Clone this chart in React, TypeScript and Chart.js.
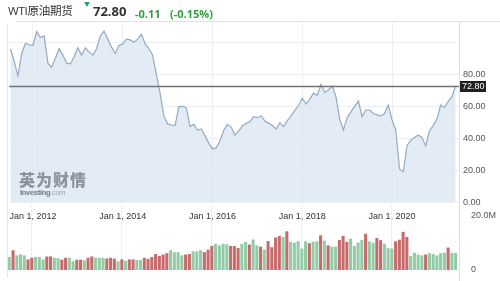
import React, { useEffect, useRef } from 'react';
import { Chart, registerables } from 'chart.js';

Chart.register(...registerables);

// ---------- data ----------
const titleText = 'WTI原油期货';
const lastPriceText = '72.80';
const changeText = '-0.11';
const changePctText = '(-0.15%)';

const startYear = 2011;
const startMonth = 7; // first monthly point: July 2011

const prices = [
  95.8, 88, 79, 93, 99.4, 98.5,
  98, 106.7, 103, 104, 87, 84.5, 90, 96, 92, 87, 86.5, 91,
  96.6, 92, 96.6, 94, 92, 96, 104, 107, 102, 97, 93, 98,
  99, 102, 101.5, 100, 102, 105, 99, 96, 92, 80, 68, 54,
  49, 48.3, 47.9, 59.8, 60, 59, 47.3, 48.7, 45.2, 45.8, 41.5, 37,
  33.5, 34, 38.5, 45, 48.7, 47, 42, 44.5, 47.9, 49.4, 50.4, 53.5,
  52.9, 54.1, 50.8, 49.5, 48, 45.8, 49.8, 47.3, 51, 54, 57.5, 60.5,
  65, 61.4, 64.5, 68.1, 67, 73.7, 68.7, 70.2, 72.7, 66, 52, 45.2,
  52.9, 56.5, 60, 63.3, 53.5, 57.7, 57.7, 55.5, 54.6, 54, 55.5, 60.8,
  51.4, 45.2, 20.8, 19.1, 35.4, 38.9, 40.5, 42.1, 40.4, 35.4, 44.6, 47.9,
  52, 60.8, 59.1, 63, 66, 72.8,
];

// monthly volume, millions
const volumes = [
  4.7, 7.2, 5.3, 5.7, 5.3, 3.8, 4.4, 4.7, 4.7, 3.8, 4.9, 4.9, 4.4, 4.3, 3.7,
  4.4, 4.4, 3.1, 3.7, 3.7, 3.5, 4.4, 4.9, 4.4, 4.4, 4.4, 4.1, 4.4, 4.1, 3.1,
  3.8, 3.3, 3.8, 3.8, 3.6, 3.6, 4.4, 4.0, 4.7, 5.8, 5.1, 5.6, 6.1, 7.2, 6.5,
  6.5, 5.3, 5.6, 5.8, 6.8, 6.8, 7.2, 6.5, 7.4, 8.8, 9.6, 9.0, 9.6, 9.4, 8.8,
  8.8, 8.0, 9.6, 10.3, 9.3, 11.2, 9.0, 8.5, 7.5, 10.6, 8.3, 11.9, 12.5, 12.1, 14.2,
  10.3, 10.0, 10.5, 7.8, 10.5, 9.8, 10.3, 10.5, 12.7, 10.7, 9.0, 8.5, 8.5, 11.0, 12.5,
  10.3, 11.5, 8.8, 10.0, 11.0, 13.3, 10.5, 10.0, 11.7, 10.9, 9.6, 8.0, 7.8, 10.5, 11.1,
  14.0, 12.1, 5.1, 6.3, 5.6, 5.3, 5.6, 6.1, 5.8, 5.3, 6.1, 6.3, 8.2, 6.2, 6.2,
];

// 'u' = up month (green), 'd' = down month (red)
const volumeDirs = [
  'u', 'd', 'u', 'u', 'u', 'd', 'd', 'u', 'u', 'u', 'd', 'd', 'u', 'u', 'd',
  'd', 'u', 'u', 'd', 'd', 'u', 'd', 'd', 'u', 'u', 'u', 'd', 'd', 'd', 'u',
  'd', 'u', 'd', 'd', 'u', 'u', 'd', 'd', 'd', 'd', 'd', 'd', 'd', 'u', 'u',
  'u', 'u', 'd', 'd', 'u', 'u', 'u', 'd', 'd', 'd', 'u', 'u', 'u', 'u', 'd',
  'd', 'd', 'u', 'u', 'd', 'u', 'u', 'd', 'u', 'd', 'd', 'd', 'd', 'u', 'd',
  'u', 'u', 'u', 'u', 'u', 'd', 'u', 'u', 'd', 'u', 'd', 'u', 'u', 'd', 'd',
  'd', 'u', 'u', 'u', 'u', 'd', 'u', 'u', 'd', 'd', 'u', 'u', 'u', 'd', 'd',
  'd', 'd', 'u', 'u', 'u', 'u', 'd', 'u', 'u', 'u', 'u', 'u', 'd', 'u', 'u',
];

const xTickYears = [2012, 2014, 2016, 2018, 2020];
const xTickLabels = ['Jan 1, 2012', 'Jan 1, 2014', 'Jan 1, 2016', 'Jan 1, 2018', 'Jan 1, 2020'];
const priceGridValues = [0, 20, 40, 60, 80, 100];
const priceTickLabels = ['0.00', '20.00', '40.00', '60.00', '80.00', ''];
const volumeTickValues = [0, 20];
const volumeTickLabels = ['0', '20.0M'];

// ---------- styles ----------
const AXIS_FONT = '"Liberation Sans", Arial, sans-serif';
const LINE_COLOR = '#93abc4';
const FILL_COLOR = 'rgba(222,232,242,0.85)';
const GRID_COLOR = 'rgba(235,238,242,0.9)';
const UP_COLOR = '#93cba7';
const DOWN_COLOR = '#c66a6b';

const monthIndexOfYear = (y: number) => (y - startYear) * 12 + (1 - startMonth);
const xMin = -0.35;
const xMax = prices.length - 0.1;

const lastPricePlugin = {
  id: 'lastPrice',
  afterDatasetsDraw(chart: any) {
    const { ctx, chartArea, scales } = chart;
    const last = prices[prices.length - 1];
    const y = Math.round(scales.y.getPixelForValue(last)) + 0.5;
    ctx.save();
    ctx.strokeStyle = '#737373';
    ctx.lineWidth = 1.6;
    ctx.beginPath();
    ctx.moveTo(chartArea.left, y);
    ctx.lineTo(chartArea.right, y);
    ctx.stroke();
    ctx.fillStyle = '#1f1f1f';
    ctx.fillRect(chartArea.right, y - 5.5, 27, 11);
    ctx.fillStyle = '#ffffff';
    ctx.font = '9px ' + AXIS_FONT;
    ctx.textBaseline = 'middle';
    ctx.textAlign = 'left';
    ctx.fillText(last.toFixed(2), chartArea.right + 3, y + 0.5);
    ctx.restore();
  },
};

export default function App() {
  const priceRef = useRef<HTMLCanvasElement>(null);
  const volRef = useRef<HTMLCanvasElement>(null);

  useEffect(() => {
    const xs = prices.map((_, i) => i);
    const tickPositions = xTickYears.map(monthIndexOfYear);

    const priceChart = new Chart(priceRef.current as HTMLCanvasElement, {
      type: 'line',
      data: {
        datasets: [
          {
            data: prices.map((v, i) => ({ x: xs[i], y: v })),
            borderColor: LINE_COLOR,
            borderWidth: 1.2,
            backgroundColor: FILL_COLOR,
            fill: 'origin',
            pointRadius: 0,
            tension: 0,
          },
        ],
      },
      options: {
        responsive: false,
        animation: false,
        devicePixelRatio: 1,
        layout: { padding: { left: 8, right: 0, top: 22, bottom: 58.7 } },
        plugins: { legend: { display: false }, tooltip: { enabled: false } },
        scales: {
          x: {
            type: 'linear',
            min: xMin,
            max: xMax,
            offset: false,
            position: 'bottom',
            border: { display: false },
            grid: { color: GRID_COLOR, drawTicks: false, offset: false },
            afterBuildTicks: (scale: any) => {
              scale.ticks = tickPositions.map((v) => ({ value: v }));
            },
            afterFit: (scale: any) => {
              scale.height = 20;
            },
            ticks: {
              padding: 9,
              maxRotation: 0,
              autoSkip: false,
              color: '#333',
              font: { family: AXIS_FONT, size: 9 },
              callback: (v: any) => {
                const k = tickPositions.indexOf(Number(v));
                return k >= 0 ? xTickLabels[k] : '';
              },
            },
          },
          y: {
            position: 'right',
            min: 0,
            max: 112.7,
            border: { display: false },
            grid: { color: GRID_COLOR, drawTicks: false },
            afterBuildTicks: (scale: any) => {
              scale.ticks = priceGridValues.map((v) => ({ value: v }));
            },
            afterFit: (scale: any) => {
              scale.width = 41;
            },
            ticks: {
              padding: 4,
              color: '#555',
              font: { family: AXIS_FONT, size: 9 },
              callback: (v: any) => {
                const k = priceGridValues.indexOf(Number(v));
                return k >= 0 ? priceTickLabels[k] : '';
              },
            },
          },
        },
      },
      plugins: [lastPricePlugin],
    } as any);

    const volChart = new Chart(volRef.current as HTMLCanvasElement, {
      type: 'bar',
      data: {
        datasets: [
          {
            data: volumes.map((v, i) => ({ x: xs[i], y: v })),
            backgroundColor: volumeDirs.map((d) => (d === 'u' ? UP_COLOR : DOWN_COLOR)),
            borderWidth: 0,
            barThickness: 2.4,
          },
        ],
      },
      options: {
        responsive: false,
        animation: false,
        devicePixelRatio: 1,
        layout: { padding: { left: 8, right: 0, top: 205, bottom: 11 } },
        plugins: { legend: { display: false }, tooltip: { enabled: false } },
        scales: {
          x: {
            type: 'linear',
            min: xMin,
            max: xMax,
            offset: false,
            border: { display: false },
            grid: { color: GRID_COLOR, drawTicks: false, offset: false },
            afterBuildTicks: (scale: any) => {
              scale.ticks = tickPositions.map((v) => ({ value: v }));
            },
            afterFit: (scale: any) => {
              scale.height = 0;
            },
            ticks: { display: false },
          },
          y: {
            position: 'right',
            min: 0,
            max: 24.07,
            border: { display: false },
            grid: { display: false },
            afterBuildTicks: (scale: any) => {
              scale.ticks = volumeTickValues.map((v) => ({ value: v }));
            },
            afterFit: (scale: any) => {
              scale.width = 41;
            },
            ticks: {
              padding: 4,
              color: '#555',
              font: { family: AXIS_FONT, size: 9 },
              callback: (v: any) => {
                const k = volumeTickValues.indexOf(Number(v));
                return k >= 0 ? volumeTickLabels[k] : '';
              },
            },
          },
        },
      },
    } as any);

    return () => {
      priceChart.destroy();
      volChart.destroy();
    };
  }, []);

  const hdrFont = '"Open Sans", "Noto Sans CJK SC", sans-serif';
  const abs = (s: React.CSSProperties): React.CSSProperties => ({ position: 'absolute', ...s });

  return (
    <div style={abs({ left: 0, top: 0, width: 500, height: 281, background: '#fff', overflow: 'hidden' })}>
      <canvas ref={priceRef} width={500} height={281} style={abs({ left: 0, top: 0, width: 500, height: 281 })} />
      <canvas ref={volRef} width={500} height={281} style={abs({ left: 0, top: 0, width: 500, height: 281 })} />
      {/* frame lines */}
      <div style={abs({ left: 16, top: 21, width: 484, height: 1, background: '#e2e2e2' })} />
      <div style={abs({ left: 7, top: 24, width: 1, height: 254, background: '#e6e6e6' })} />
      <div style={abs({ left: 459, top: 22, width: 1, height: 259, background: '#dedede' })} />
      {/* header */}
      <div style={abs({ left: 8, top: 5, fontFamily: hdrFont, fontSize: 11.6, lineHeight: '12px', color: '#333', whiteSpace: 'nowrap', letterSpacing: -0.3 })}>
        {titleText}
      </div>
      <div style={abs({ left: 84, top: 1, fontSize: 6, lineHeight: '6px', color: '#2a9d6e', fontFamily: hdrFont })}>▼</div>
      <div style={abs({ left: 93, top: 5, fontFamily: hdrFont, fontSize: 13, lineHeight: '13px', fontWeight: 700, color: '#333', whiteSpace: 'nowrap' })}>
        {lastPriceText}
      </div>
      <div style={abs({ left: 135, top: 7.5, fontFamily: hdrFont, fontSize: 11, lineHeight: '11px', fontWeight: 700, color: '#2f9e3c', whiteSpace: 'nowrap' })}>
        {changeText}
      </div>
      <div style={abs({ left: 170, top: 7.5, fontFamily: hdrFont, fontSize: 11, lineHeight: '11px', fontWeight: 700, color: '#2f9e3c', whiteSpace: 'nowrap' })}>
        {changePctText}
      </div>
      {/* watermark */}
      <div style={abs({ left: 19, top: 171, fontFamily: '"Noto Sans CJK SC", sans-serif', fontSize: 16, lineHeight: '16px', fontWeight: 900, color: 'rgba(110,118,128,0.75)', letterSpacing: 1, whiteSpace: 'nowrap' })}>
        英为财情
      </div>
      <div style={abs({ left: 20, top: 189, fontFamily: AXIS_FONT, fontSize: 7.5, lineHeight: '8px', whiteSpace: 'nowrap', letterSpacing: -0.3 })}>
        <span style={{ fontWeight: 700, color: 'rgba(95,100,110,0.85)' }}>Investing</span>
        <span style={{ color: 'rgba(130,135,145,0.7)' }}>.com</span>
      </div>
    </div>
  );
}
